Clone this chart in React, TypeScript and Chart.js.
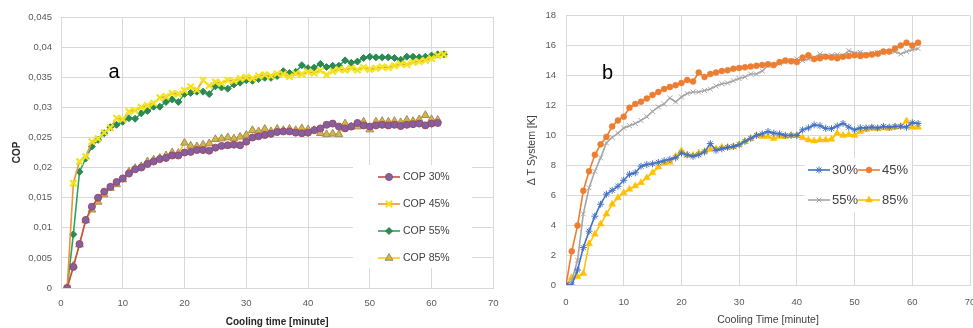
import React, { useEffect, useRef } from 'react';
import { Chart, registerables } from 'chart.js';
import { drawPoint } from 'chart.js/helpers';

Chart.register(...registerables);

const FONT = '"Liberation Sans", Arial, sans-serif';

// ---------- Chart a : COP vs cooling time ----------
const copStartMinute = 1;
const cop30 = [0, 0.0035, 0.0073, 0.0113, 0.0135, 0.015, 0.016, 0.0168, 0.0176, 0.0182, 0.019, 0.0197, 0.02, 0.0206, 0.021, 0.0214, 0.0216, 0.022, 0.022, 0.0225, 0.0226, 0.0229, 0.0229, 0.0228, 0.0233, 0.0236, 0.0237, 0.0238, 0.0237, 0.0243, 0.025, 0.0252, 0.0254, 0.0256, 0.0259, 0.026, 0.026, 0.0258, 0.0257, 0.0258, 0.0262, 0.0265, 0.0271, 0.0273, 0.0268, 0.0265, 0.0268, 0.0274, 0.027, 0.0268, 0.027, 0.0271, 0.027, 0.0271, 0.0269, 0.0271, 0.0272, 0.0273, 0.027, 0.0273, 0.0274];
const cop45 = [0, 0.0174, 0.021, 0.0218, 0.0243, 0.0248, 0.0258, 0.0266, 0.0282, 0.028, 0.0293, 0.0295, 0.03, 0.0303, 0.0307, 0.0316, 0.0318, 0.0323, 0.0322, 0.0328, 0.0334, 0.0329, 0.0345, 0.0336, 0.0342, 0.034, 0.0345, 0.0344, 0.0348, 0.035, 0.0348, 0.0352, 0.0354, 0.0352, 0.0356, 0.0355, 0.0351, 0.0356, 0.0355, 0.0359, 0.0357, 0.0361, 0.0354, 0.036, 0.0363, 0.0362, 0.0365, 0.0362, 0.0366, 0.0363, 0.0365, 0.0367, 0.0366, 0.0369, 0.0372, 0.0371, 0.0375, 0.0376, 0.0378, 0.0381, 0.0386, 0.0388];
const cop55 = [0, 0.0089, 0.0193, 0.0215, 0.0235, 0.0246, 0.0257, 0.0267, 0.0271, 0.0276, 0.0282, 0.0281, 0.029, 0.0294, 0.0301, 0.0301, 0.0309, 0.0313, 0.0309, 0.0322, 0.0324, 0.0326, 0.0326, 0.0322, 0.0335, 0.0333, 0.0331, 0.0338, 0.0341, 0.0345, 0.0344, 0.0347, 0.0349, 0.0349, 0.0352, 0.036, 0.0357, 0.0359, 0.037, 0.0365, 0.0366, 0.0372, 0.0367, 0.0369, 0.0369, 0.0378, 0.0374, 0.0376, 0.0382, 0.0384, 0.0383, 0.0383, 0.0383, 0.0382, 0.0379, 0.0384, 0.0384, 0.0383, 0.0384, 0.0386, 0.0388, 0.0388];
const cop85 = [0, 0.0037, 0.0072, 0.0112, 0.013, 0.0143, 0.0155, 0.0166, 0.0172, 0.018, 0.0193, 0.0199, 0.0202, 0.021, 0.0213, 0.0216, 0.022, 0.0225, 0.0224, 0.0241, 0.0236, 0.0235, 0.0238, 0.024, 0.0247, 0.0248, 0.025, 0.0248, 0.0251, 0.0254, 0.0262, 0.026, 0.0264, 0.026, 0.0264, 0.0262, 0.0264, 0.0262, 0.0265, 0.0263, 0.0262, 0.0257, 0.0255, 0.0256, 0.0255, 0.0273, 0.0268, 0.0268, 0.0276, 0.0263, 0.0276, 0.0277, 0.0276, 0.0277, 0.0275, 0.0279, 0.0277, 0.028, 0.0287, 0.028, 0.0279];
const copLabels = ['COP 30%', 'COP 45%', 'COP 55%', 'COP 85%'];
const copTickLabels = ['0', '0,005', '0,01', '0,015', '0,02', '0,025', '0,03', '0,035', '0,04', '0,045'];

// ---------- Chart b : ΔT system vs cooling time ----------
const dtStartMinute = 0;
const dt30 = [0, 0, 1.0, 2.5, 3.6, 4.6, 5.4, 6.07, 6.33, 6.6, 7.0, 7.4, 7.5, 7.94, 8.05, 8.1, 8.2, 8.3, 8.4, 8.5, 8.82, 8.7, 8.6, 8.7, 8.9, 9.45, 9.0, 9.1, 9.2, 9.25, 9.38, 9.6, 9.8, 10.0, 10.1, 10.26, 10.15, 10.1, 10.0, 10.0, 10.0, 10.37, 10.5, 10.7, 10.65, 10.47, 10.45, 10.63, 10.8, 10.55, 10.37, 10.5, 10.5, 10.55, 10.5, 10.6, 10.55, 10.6, 10.6, 10.55, 10.85, 10.8];
const dt45 = [0, 2.25, 3.97, 6.3, 7.6, 8.7, 9.4, 9.9, 10.6, 11.0, 11.25, 11.85, 12.1, 12.25, 12.46, 12.7, 12.9, 13.1, 13.24, 13.35, 13.5, 13.7, 13.6, 14.2, 13.9, 14.1, 14.2, 14.3, 14.35, 14.45, 14.5, 14.55, 14.6, 14.65, 14.7, 14.75, 14.7, 14.9, 15.0, 14.95, 14.9, 15.2, 15.35, 15.1, 15.15, 15.25, 15.2, 15.15, 15.25, 15.3, 15.35, 15.3, 15.35, 15.4, 15.45, 15.6, 15.6, 15.8, 16.0, 16.2, 16.0, 16.2];
const dt55 = [0, 0.3, 1.65, 4.75, 6.5, 7.6, 8.5, 9.5, 9.86, 10.15, 10.5, 10.65, 10.8, 11.0, 11.25, 11.6, 11.9, 12.1, 12.5, 12.24, 12.57, 12.8, 12.9, 12.9, 13.0, 13.1, 13.3, 13.45, 13.5, 13.65, 13.8, 13.9, 14.1, 14.1, 14.3, 14.67, 14.7, 14.8, 14.9, 15.0, 15.1, 15.0, 15.1, 15.2, 15.44, 15.3, 15.35, 15.4, 15.33, 15.66, 15.5, 15.55, 15.4, 15.5, 15.55, 15.5, 15.6, 15.6, 15.44, 15.6, 15.73, 15.8];
const dt85 = [0, 0.5, 0.55, 0.77, 2.76, 3.4, 4.08, 4.74, 5.4, 5.84, 6.17, 6.4, 6.62, 6.84, 7.17, 7.5, 7.88, 8.16, 8.2, 8.6, 8.98, 8.67, 8.67, 8.83, 8.93, 9.05, 9.1, 9.2, 9.2, 9.25, 9.38, 9.6, 9.8, 10.0, 9.93, 9.93, 9.8, 9.93, 9.93, 10.0, 10.0, 9.85, 9.7, 9.63, 9.7, 9.7, 9.75, 10.15, 10.0, 10.05, 10.0, 10.26, 10.37, 10.47, 10.45, 10.5, 10.47, 10.55, 10.6, 10.96, 10.55, 10.55];
const dtLabels = ['30%', '45%', '55%', '85%'];

const toPoints = (start: number, values: number[]) => values.map((v, i) => ({ x: start + i, y: v }));

const customLegend = {
  id: 'customLegend',
  afterDatasetsDraw(chart: any, _args: any, opts: any) {
    if (!opts || !opts.items) return;
    const ctx = chart.ctx;
    ctx.save();
    const b = opts.box;
    ctx.fillStyle = '#ffffff';
    ctx.fillRect(b.x, b.y, b.w, b.h);
    opts.items.forEach((item: any) => {
      const ds = chart.data.datasets[item.index];
      ctx.strokeStyle = ds.borderColor;
      ctx.lineWidth = ds.borderWidth;
      ctx.beginPath();
      ctx.moveTo(item.x, item.y);
      ctx.lineTo(item.x + opts.lineLen, item.y);
      ctx.stroke();
      ctx.fillStyle = ds.pointBackgroundColor;
      ctx.strokeStyle = ds.pointBorderColor;
      ctx.lineWidth = ds.pointBorderWidth;
      drawPoint(ctx, { pointStyle: ds.pointStyle, radius: ds.pointRadius, borderWidth: ds.pointBorderWidth, rotation: 0 } as any, item.x + opts.lineLen / 2, item.y);
      ctx.fillStyle = opts.color;
      ctx.font = opts.font;
      ctx.textBaseline = 'middle';
      ctx.textAlign = 'left';
      ctx.fillText(ds.label, item.x + opts.lineLen + opts.gap, item.y);
    });
    if (opts.letter) {
      ctx.fillStyle = '#000';
      ctx.font = `20px ${FONT}`;
      ctx.textAlign = 'center';
      ctx.textBaseline = 'alphabetic';
      ctx.fillText(opts.letter.text, opts.letter.x, opts.letter.y);
    }
    ctx.restore();
  },
};

const TICK_COLOR = '#595959';
const GRID = '#d9d9d9';

function makeLeftConfig(): any {
  const datasets = [
    { label: copLabels[0], data: toPoints(copStartMinute, cop30), borderColor: '#c0504d', borderWidth: 1.6, pointStyle: 'circle', pointRadius: 3.5, pointBackgroundColor: '#7e62a8', pointBorderColor: '#a8455a', pointBorderWidth: 1 },
    { label: copLabels[1], data: toPoints(copStartMinute, cop45), borderColor: '#f0913c', borderWidth: 1.6, pointStyle: 'crossRot', pointRadius: 4.5, pointBackgroundColor: '#f2e41c', pointBorderColor: '#f2e41c', pointBorderWidth: 2.2 },
    { label: copLabels[2], data: toPoints(copStartMinute, cop55), borderColor: '#2fa35a', borderWidth: 1.6, pointStyle: 'rectRot', pointRadius: 3.5, pointBackgroundColor: '#2a8a52', pointBorderColor: '#2a8a52', pointBorderWidth: 1 },
    { label: copLabels[3], data: toPoints(copStartMinute, cop85), borderColor: '#f5cf10', borderWidth: 1.6, pointStyle: 'triangle', pointRadius: 4.5, pointBackgroundColor: '#d9b53c', pointBorderColor: '#9a8e66', pointBorderWidth: 1 },
  ];
  return {
    type: 'line',
    data: { datasets },
    plugins: [customLegend],
    options: {
      animation: false,
      responsive: false,
      maintainAspectRatio: false,
      layout: { padding: { left: 0, top: 17, right: 5, bottom: 0 } },
      elements: { line: { tension: 0 } },
      plugins: {
        legend: { display: false },
        tooltip: { enabled: false },
        customLegend: {
          box: { x: 353, y: 165, w: 119, h: 103 },
          lineLen: 22,
          gap: 3,
          color: '#404040',
          font: `10.5px ${FONT}`,
          items: [
            { index: 0, x: 378, y: 177 },
            { index: 1, x: 378, y: 204 },
            { index: 2, x: 378, y: 231 },
            { index: 3, x: 378, y: 258 },
          ],
          letter: { text: 'a', x: 114, y: 78 },
        },
      },
      scales: {
        x: {
          type: 'linear', min: 0, max: 70,
          ticks: { stepSize: 10, padding: 10, color: TICK_COLOR, font: { family: FONT, size: 9.5 }, autoSkip: false, maxRotation: 0 },
          grid: { color: GRID, drawTicks: false },
          border: { color: GRID },
          title: { display: true, text: 'Cooling time [minute]', color: '#262626', font: { family: FONT, size: 10, weight: 'bold' }, padding: { top: 0, bottom: 0 } },
          afterFit: (s: any) => { s.height = 40; s.paddingLeft = 0; s.paddingRight = 0; },
        },
        y: {
          type: 'linear', min: 0, max: 0.045,
          ticks: { stepSize: 0.005, padding: 9, color: TICK_COLOR, font: { family: FONT, size: 9.5 }, autoSkip: false,
            callback: (v: any) => copTickLabels[Math.round(Number(v) / 0.005)] ?? '' },
          grid: { color: GRID, drawTicks: false },
          border: { color: GRID },
          title: { display: true, text: 'COP', color: '#262626', font: { family: FONT, size: 10, weight: 'bold' }, padding: { top: 11, bottom: 0 } },
          afterFit: (s: any) => { s.width = 61; },
        },
      },
    },
  };
}

function makeRightConfig(): any {
  const datasets = [
    { label: dtLabels[0], data: toPoints(dtStartMinute, dt30), borderColor: '#4472c4', borderWidth: 1.6, pointStyle: 'star', pointRadius: 3.5, pointBackgroundColor: '#4472c4', pointBorderColor: '#4472c4', pointBorderWidth: 1 },
    { label: dtLabels[1], data: toPoints(dtStartMinute, dt45), borderColor: '#ed7d31', borderWidth: 1.6, pointStyle: 'circle', pointRadius: 3, pointBackgroundColor: '#ed7d31', pointBorderColor: '#ed7d31', pointBorderWidth: 0.5 },
    { label: dtLabels[2], data: toPoints(dtStartMinute, dt55), borderColor: '#a5a5a5', borderWidth: 1.6, pointStyle: 'crossRot', pointRadius: 3.5, pointBackgroundColor: '#a5a5a5', pointBorderColor: '#a5a5a5', pointBorderWidth: 1 },
    { label: dtLabels[3], data: toPoints(dtStartMinute, dt85), borderColor: '#ffc000', borderWidth: 1.6, pointStyle: 'triangle', pointRadius: 4, pointBackgroundColor: '#ffc000', pointBorderColor: '#ffc000', pointBorderWidth: 0.5 },
  ];
  return {
    type: 'line',
    data: { datasets },
    plugins: [customLegend],
    options: {
      animation: false,
      responsive: false,
      maintainAspectRatio: false,
      layout: { padding: { left: 0, top: 13, right: 10, bottom: 0 } },
      elements: { line: { tension: 0 } },
      plugins: {
        legend: { display: false },
        tooltip: { enabled: false },
        customLegend: {
          box: { x: 305, y: 158, w: 107, h: 54 },
          lineLen: 22,
          gap: 2,
          color: '#404040',
          font: `13px ${FONT}`,
          items: [
            { index: 0, x: 308, y: 170 },
            { index: 1, x: 358, y: 170 },
            { index: 2, x: 308, y: 200 },
            { index: 3, x: 358, y: 200 },
          ],
          letter: { text: 'b', x: 107.5, y: 79 },
        },
      },
      scales: {
        x: {
          type: 'linear', min: 0, max: 70,
          ticks: { stepSize: 10, padding: 12, color: TICK_COLOR, font: { family: FONT, size: 9.5 }, autoSkip: false, maxRotation: 0 },
          grid: { color: GRID, drawTicks: false },
          border: { color: GRID },
          title: { display: true, text: 'Cooling Time [minute]', color: '#404040', font: { family: FONT, size: 10.5 }, padding: { top: 0, bottom: 2 } },
          afterFit: (s: any) => { s.height = 43; s.paddingLeft = 0; s.paddingRight = 0; },
        },
        y: {
          type: 'linear', min: 0, max: 18,
          ticks: { stepSize: 2, padding: 10, color: TICK_COLOR, font: { family: FONT, size: 9.5 }, autoSkip: false },
          grid: { color: GRID, drawTicks: false },
          border: { color: GRID },
          title: { display: true, text: 'Δ T System [K]', color: '#404040', font: { family: FONT, size: 10.5 }, padding: { top: 26, bottom: 0 } },
          afterFit: (s: any) => { s.width = 66; },
        },
      },
    },
  };
}

function ChartCanvas({ make, left, width }: { make: () => any; left: number; width: number }) {
  const ref = useRef<HTMLCanvasElement | null>(null);
  useEffect(() => {
    if (!ref.current) return;
    const chart = new Chart(ref.current, make());
    return () => chart.destroy();
  }, [make]);
  return (
    <canvas
      ref={ref}
      width={width}
      height={328}
      style={{ position: 'absolute', left, top: 0, width, height: 328 }}
    />
  );
}

export default function App() {
  return (
    <div style={{ position: 'fixed', left: 0, top: 0, width: 973, height: 328, overflow: 'hidden', background: '#ffffff' }}>
      <ChartCanvas make={makeLeftConfig} left={0} width={500} />
      <ChartCanvas make={makeRightConfig} left={500} width={480} />
    </div>
  );
}
